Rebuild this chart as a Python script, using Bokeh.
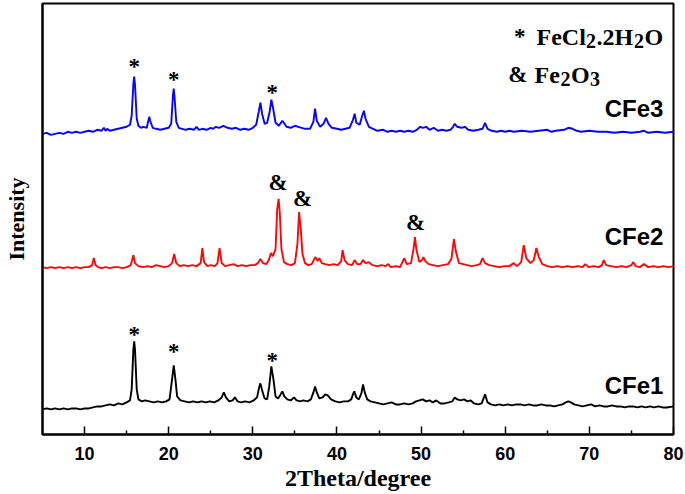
from bokeh.plotting import figure
from bokeh.models import FixedTicker, Range1d
from bokeh.core.properties import value
from bokeh.embed import file_html
from bokeh.resources import INLINE

# ---- data (2theta in degrees, intensity in arbitrary offset units) ----
cfe3_x = [5.0, 5.5, 6.0, 6.5, 7.0, 7.5, 8.0, 8.5, 9.0, 9.5, 10.0, 10.5, 11.0, 11.5, 12.0, 12.3, 12.5, 12.7, 13.0, 13.5,
          14.0, 14.5, 15.0, 15.4, 15.6, 15.8, 15.9, 16.0, 16.2, 16.4, 16.7, 17.0, 17.4, 17.6, 17.7, 17.8, 18.1, 18.5,
          19.0, 19.5, 20.0, 20.3, 20.5, 20.6, 20.7, 20.9, 21.2, 21.6, 22.0, 22.5, 23.0, 23.3, 23.6, 24.0, 24.5, 25.0,
          25.3, 25.6, 26.0, 26.5, 27.0, 27.5, 28.0, 28.5, 29.0, 29.5, 30.0, 30.4, 30.7, 30.9, 31.1, 31.4, 31.7, 32.0,
          32.2, 32.4, 32.7, 33.1, 33.5, 33.7, 34.0, 34.5, 35.0, 35.4, 35.8, 36.2, 36.8, 37.2, 37.4, 37.6, 38.0, 38.4,
          38.7, 39.0, 39.4, 40.0, 40.5, 41.0, 41.5, 41.9, 42.1, 42.3, 42.7, 43.0, 43.2, 43.4, 43.8, 44.3, 44.8, 45.5,
          46.0, 46.5, 47.0, 47.5, 48.0, 48.5, 49.0, 49.5, 49.9, 50.2, 50.6, 51.0, 51.5, 52.0, 52.5, 53.0, 53.5, 53.8,
          54.0, 54.3, 54.8, 55.2, 55.6, 56.2, 56.8, 57.3, 57.6, 57.9, 58.4, 59.0, 59.5, 60.0, 60.5, 61.0, 62.0, 63.0,
          64.0, 65.0, 65.5, 66.0, 67.0, 67.5, 68.0, 68.5, 69.0, 70.0, 71.0, 72.0, 73.0, 74.0, 75.0, 76.0, 76.5, 77.0,
          78.0, 79.0, 80.0]
cfe3_y = [300, 301, 299, 300, 301, 300, 302, 301, 302, 301, 302, 303, 302, 304, 303, 306, 303, 305, 303, 304,
          305, 306, 307, 309, 318, 350, 357, 348, 315, 308, 306, 307, 306, 314, 317, 313, 306, 305,
          304, 305, 306, 310, 338, 345, 336, 312, 306, 305, 304, 305, 304, 307, 304, 305, 304, 306,
          305, 307, 306, 308, 306, 305, 306, 304, 305, 304, 306, 309, 322, 331, 320, 310, 311, 322,
          334, 326, 311, 308, 313, 311, 307, 306, 308, 307, 306, 305, 305, 312, 325, 313, 307, 310,
          316, 310, 306, 305, 304, 305, 306, 314, 320, 311, 309, 318, 323, 315, 307, 305, 303, 304,
          302, 303, 302, 303, 302, 303, 302, 304, 307, 306, 307, 304, 306, 303, 304, 303, 304, 307,
          310, 307, 306, 307, 304, 303, 304, 305, 311, 305, 303, 302, 303, 302, 303, 302, 303, 302,
          303, 304, 302, 303, 304, 306, 305, 303, 302, 303, 302, 302, 301, 302, 301, 302, 303, 301,
          302, 301, 302]

cfe2_x = [5.0, 5.5, 6.0, 6.5, 7.0, 7.5, 8.0, 8.5, 9.0, 9.5, 10.0, 10.5, 10.9, 11.1, 11.3, 11.6, 12.0, 12.5, 13.0,
          13.5, 14.0, 14.5, 15.0, 15.5, 15.8, 16.0, 16.4, 17.0, 17.5, 18.0, 18.5, 19.0, 19.5, 20.0, 20.4, 20.65, 20.9,
          21.3, 21.8, 22.3, 22.8, 23.3, 23.8, 24.0, 24.2, 24.6, 25.0, 25.5, 25.8, 26.05, 26.3, 26.7, 27.2, 27.7, 28.2,
          28.7, 29.2, 29.7, 30.2, 30.6, 30.9, 31.2, 31.6, 31.9, 32.15, 32.4, 32.7, 32.9, 33.06, 33.2, 33.4, 33.7, 34.1,
          34.6, 35.0, 35.3, 35.5, 35.7, 35.9, 36.2, 36.6, 37.0, 37.3, 37.46, 37.7, 37.9, 38.2, 38.6, 39.1, 39.6, 40.1,
          40.5, 40.67, 40.9, 41.3, 41.8, 42.1, 42.4, 42.8, 43.1, 43.4, 43.8, 44.2, 44.8, 45.3, 45.8, 46.1, 46.4, 47.0,
          47.5, 48.0, 48.3, 48.8, 49.1, 49.27, 49.45, 49.8, 50.1, 50.27, 50.5, 50.9, 51.4, 52.0, 52.6, 53.2, 53.6,
          53.9, 54.15, 54.5, 55.0, 55.5, 56.0, 56.6, 57.0, 57.3, 57.6, 58.1, 58.7, 59.3, 59.9, 60.5, 61.0, 61.4, 61.9,
          62.2, 62.5, 63.0, 63.4, 63.7, 64.0, 64.4, 65.0, 65.6, 66.2, 66.8, 67.4, 68.0, 68.6, 69.2, 69.5, 69.9, 70.5,
          71.1, 71.5, 71.7, 72.0, 72.6, 73.2, 73.8, 74.4, 75.0, 75.2, 75.5, 76.0, 76.5, 77.0, 77.6, 78.2, 78.8, 79.4,
          80.0]
cfe2_y = [167, 166, 167, 166, 167, 166, 167, 166, 167, 166, 167, 167, 169, 176, 169, 167, 166, 167, 166,
          167, 167, 166, 167, 169, 179, 171, 168, 167, 168, 167, 169, 168, 167, 168, 171, 180, 171,
          168, 169, 168, 169, 168, 171, 186, 172, 168, 169, 168, 171, 186, 171, 168, 169, 170, 168,
          169, 168, 169, 169, 171, 175, 171, 170, 174, 181, 178, 185, 225, 235, 222, 185, 172, 170,
          169, 171, 190, 222, 205, 180, 171, 169, 170, 175, 177, 173, 176, 171, 170, 169, 170, 169,
          173, 184, 174, 170, 169, 174, 170, 170, 174, 171, 172, 169, 168, 169, 168, 170, 167, 168,
          167, 176, 170, 171, 185, 197, 184, 172, 174, 177, 173, 170, 169, 168, 169, 170, 175,
          195, 182, 171, 170, 169, 168, 169, 170, 176, 171, 169, 168, 167, 168, 168, 171, 168, 172,
          189, 176, 171, 174, 186, 177, 170, 168, 167, 168, 167, 168, 167, 168, 167, 170, 167, 168,
          167, 169, 174, 169, 168, 167, 168, 167, 169, 172, 168, 167, 170, 167, 168, 167, 168, 167,
          168]

cfe1_x = [5.0, 5.5, 6.0, 6.5, 7.0, 7.5, 8.0, 8.5, 9.0, 9.5, 10.0, 10.5, 11.0, 11.5, 12.0, 12.5, 13.0, 13.5, 14.0,
          14.5, 15.0, 15.4, 15.6, 15.8, 15.9, 16.0, 16.2, 16.4, 16.8, 17.2, 17.7, 18.2, 18.7, 19.2, 19.7, 20.1, 20.4,
          20.6, 20.8, 21.0, 21.4, 21.9, 22.4, 22.9, 23.4, 23.9, 24.4, 24.9, 25.4, 25.9, 26.3, 26.55, 26.8, 27.2, 27.6,
          27.87, 28.2, 28.6, 29.1, 29.6, 30.1, 30.5, 30.75, 30.9, 31.1, 31.4, 31.7, 31.95, 32.2, 32.45, 32.7, 33.0,
          33.3, 33.5, 33.75, 34.1, 34.5, 34.9, 35.2, 35.6, 36.0, 36.5, 36.9, 37.2, 37.4, 37.6, 37.9, 38.3, 38.6, 38.9,
          39.3, 39.8, 40.3, 40.8, 41.3, 41.7, 41.9, 42.06, 42.3, 42.6, 42.9, 43.1, 43.3, 43.6, 44.0, 44.5, 45.0, 45.5,
          46.0, 46.5, 47.0, 47.5, 48.0, 48.5, 49.0, 49.4, 49.8, 50.2, 50.6, 51.0, 51.4, 51.8, 52.3, 52.8, 53.3, 53.7,
          54.0, 54.3, 54.7, 55.1, 55.5, 55.9, 56.3, 56.8, 57.2, 57.6, 57.9, 58.3, 58.8, 59.3, 59.8, 60.3, 60.8, 61.3,
          61.8, 62.3, 62.8, 63.3, 63.8, 64.3, 64.8, 65.3, 65.8, 66.3, 66.8, 67.2, 67.5, 67.8, 68.2, 68.7, 69.2, 69.7,
          70.2, 70.7, 71.2, 71.7, 72.2, 72.7, 73.2, 73.7, 74.2, 74.7, 75.2, 75.7, 76.2, 76.7, 77.2, 77.7, 78.2, 78.7,
          79.2, 80.0]
cfe1_y = [25, 26, 25, 26, 25, 26, 25, 26, 26, 25, 26, 26, 27, 28, 28, 29, 30, 29, 31,
          30, 32, 34, 45, 85, 93, 84, 45, 35, 33, 34, 33, 32, 33, 32, 33, 35, 55,
          69, 55, 38, 34, 33, 32, 33, 32, 33, 32, 33, 32, 34, 37, 42, 37, 33, 34,
          37, 33, 32, 33, 32, 34, 37, 47, 51, 44, 36, 35, 48, 68, 55, 38, 36,
          40, 43, 38, 35, 34, 37, 34, 33, 34, 33, 35, 42, 48, 42, 36, 37, 40, 39,
          35, 33, 32, 33, 33, 35, 40, 43, 37, 35, 41, 50, 42, 35, 33, 32, 31, 30,
          31, 32, 30, 30, 31, 30, 31, 33, 34, 35, 33, 34, 32, 34, 31, 31, 32, 33,
          37, 35, 34, 35, 33, 34, 31, 30, 31, 40, 32, 30, 29, 30, 29, 30, 29, 30,
          30, 29, 30, 29, 29, 30, 29, 29, 28, 29, 30, 32, 33, 32, 30, 29, 28, 29,
          30, 28, 29, 28, 28, 29, 28, 28, 27, 28, 28, 27, 28, 27, 28, 27, 28, 27,
          27, 28]

x_ticks = [10, 20, 30, 40, 50, 60, 70, 80]
x_minor_ticks = [15, 25, 35, 45, 55, 65, 75]

# phase markers above the peaks
star_x = [15.9, 20.6, 32.3, 15.9, 20.6, 32.3]
star_y = [367, 354, 341, 100, 83, 74]
amp_x = [33.0, 35.9, 49.35]
amp_y = [251, 235, 212]

sample_names = ["CFe3", "CFe2", "CFe1"]
sample_x = [78.8, 78.8, 78.8]
sample_y = [325, 198, 49]

# phase key (top right)
key_symbols = ["*", "&"]
key_symbol_x = [61.74, 61.5]
key_y = [397, 359]
key1_parts = ["FeCl", "2", ".2H", "2", "O"]
key2_parts = ["Fe", "2", "O", "3"]
key_text_x = [63.72, 63.48]

# ---- figure ----
p = figure(width=685, height=494, output_backend="svg", toolbar_location=None,
           x_range=Range1d(5, 80), y_range=Range1d(0, 430),
           min_border_left=41, min_border_right=12, min_border_top=3, min_border_bottom=60)

p.xgrid.visible = False
p.ygrid.visible = False
p.outline_line_color = "black"
p.outline_line_width = 2
p.outline_line_alpha = 1
p.background_fill_color = "white"
p.border_fill_color = "white"

p.line(cfe3_x, cfe3_y, line_color="#0505ff", line_width=1.9)
p.line(cfe2_x, cfe2_y, line_color="#ff0505", line_width=1.9)
p.line(cfe1_x, cfe1_y, line_color="black", line_width=1.9)

serif = value("Liberation Serif")
sans = value("Liberation Sans")

p.text(x=star_x, y=star_y, text=["*"] * len(star_x), text_font=serif, text_font_style="bold",
       text_font_size="23px", text_align="center", text_baseline="middle", text_color="black")
p.text(x=amp_x, y=amp_y, text=["&"] * len(amp_x), text_font=serif, text_font_style="bold",
       text_font_size="23px", text_align="center", text_baseline="middle", text_color="black")
p.text(x=sample_x, y=sample_y, text=sample_names, text_font=sans, text_font_style="bold",
       text_font_size="24px", text_align="right", text_baseline="middle", text_color="black")

# key symbols
p.text(x=key_symbol_x, y=key_y, text=key_symbols, text_font=serif, text_font_style="bold",
       text_font_size="23px", text_align="center", text_baseline="alphabetic", text_color="black")

# key formulas built from pieces so the subscripts are lowered digits
k1_off = [0, 49.5, 60, 97.5, 108]
k1_dy = [0, 4.5, 0, 4.5, 0]
k1_size = ["24px", "20px", "24px", "20px", "24px"]
p.text(x=[key_text_x[0]] * len(key1_parts), y=[key_y[0]] * len(key1_parts), text=key1_parts,
       x_offset=k1_off, y_offset=k1_dy, text_font_size=k1_size,
       text_font=serif, text_font_style="bold", text_align="left", text_baseline="alphabetic",
       text_color="black")
k2_off = [0, 26, 36.5, 55.5]
k2_dy = [0, 4.5, 0, 4.5]
k2_size = ["24px", "20px", "24px", "20px"]
p.text(x=[key_text_x[1]] * len(key2_parts), y=[key_y[1]] * len(key2_parts), text=key2_parts,
       x_offset=k2_off, y_offset=k2_dy, text_font_size=k2_size,
       text_font=serif, text_font_style="bold", text_align="left", text_baseline="alphabetic",
       text_color="black")

xa = p.xaxis[0]
xa.ticker = FixedTicker(ticks=x_ticks, minor_ticks=x_minor_ticks)
xa.axis_line_width = 2
xa.major_tick_in = 8
xa.major_tick_out = 0
xa.minor_tick_in = 4
xa.minor_tick_out = 0
xa.major_tick_line_width = 1.5
xa.minor_tick_line_width = 1.5
xa.major_label_text_font = "Liberation Sans"
xa.major_label_text_font_style = "bold"
xa.major_label_text_font_size = "18px"
xa.major_label_text_color = "black"
xa.major_label_standoff = 12
xa.axis_label = "2Theta/degree"
xa.axis_label_text_font = "Liberation Serif"
xa.axis_label_text_font_style = "bold"
xa.axis_label_text_font_size = "24px"
xa.axis_label_text_color = "black"
xa.axis_label_standoff = 2

ya = p.yaxis[0]
ya.ticker = FixedTicker(ticks=[])
ya.axis_line_width = 2
ya.major_tick_in = 0
ya.major_tick_out = 0
ya.minor_tick_in = 0
ya.minor_tick_out = 0
ya.major_label_text_font_size = "0px"
ya.axis_label = "Intensity"
ya.axis_label_text_font = "Liberation Serif"
ya.axis_label_text_font_style = "bold"
ya.axis_label_text_font_size = "22px"
ya.axis_label_text_color = "black"
ya.axis_label_standoff = 14

open("out.html", "w").write(file_html(p, INLINE))
